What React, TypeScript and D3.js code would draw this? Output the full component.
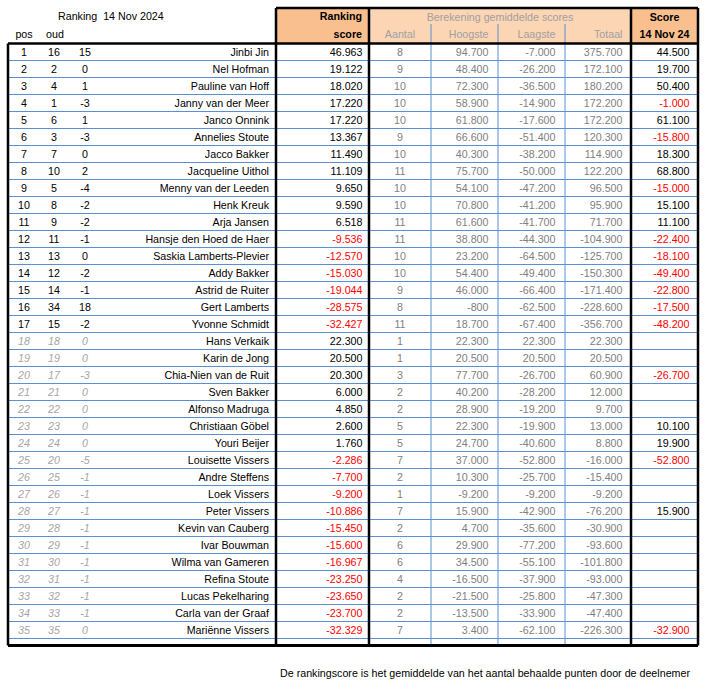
import React, { useEffect } from 'react';
import * as d3 from 'd3';

// ranking data, 14 Nov 2024
const pos = [1,2,3,4,5,6,7,8,9,10,11,12,13,14,15,16,17,18,19,20,21,22,23,24,25,26,27,28,29,30,31,32,33,34,35];
const oud = [16,2,4,1,6,3,7,10,5,8,9,11,13,12,14,34,15,18,19,17,21,22,23,24,20,25,26,27,28,29,30,31,32,33,35];
const diff = [15,0,1,-3,1,-3,0,2,-4,-2,-2,-1,0,-2,-1,18,-2,0,0,-3,0,0,0,0,-5,-1,-1,-1,-1,-1,-1,-1,-1,-1,0];
const names = [
  'Jinbi Jin','Nel Hofman','Pauline van Hoff','Janny van der Meer','Janco Onnink','Annelies Stoute',
  'Jacco Bakker','Jacqueline Uithol','Menny van der Leeden','Henk Kreuk','Arja Jansen',
  'Hansje den Hoed de Haer','Saskia Lamberts-Plevier','Addy Bakker','Astrid de Ruiter','Gert Lamberts',
  'Yvonne Schmidt','Hans Verkaik','Karin de Jong','Chia-Nien van de Ruit','Sven Bakker','Alfonso Madruga',
  'Christiaan Göbel','Youri Beijer','Louisette Vissers','Andre Steffens','Loek Vissers','Peter Vissers',
  'Kevin van Cauberg','Ivar Bouwman','Wilma van Gameren','Refina Stoute','Lucas Pekelharing',
  'Carla van der Graaf','Mariënne Vissers',
];
const rankingScore = [46963,19122,18020,17220,17220,13367,11490,11109,9650,9590,6518,-9536,-12570,-15030,-19044,-28575,-32427,22300,20500,20300,6000,4850,2600,1760,-2286,-7700,-9200,-10886,-15450,-15600,-16967,-23250,-23650,-23700,-32329];
const aantal = [8,9,10,10,10,9,10,11,10,10,11,11,10,10,9,8,11,1,1,3,2,2,5,5,7,2,1,7,2,6,6,4,2,2,7];
const hoogste = [94700,48400,72300,58900,61800,66600,40300,75700,54100,70800,61600,38800,23200,54400,46000,-800,18700,22300,20500,77700,40200,28900,22300,24700,37000,10300,-9200,15900,4700,29900,34500,-16500,-21500,-13500,3400];
const laagste = [-7000,-26200,-36500,-14900,-17600,-51400,-38200,-50000,-47200,-41200,-41700,-44300,-64500,-49400,-66400,-62500,-67400,22300,20500,-26700,-28200,-19200,-19900,-40600,-52800,-25700,-9200,-42900,-35600,-77200,-55100,-37900,-25800,-33900,-62100];
const totaal = [375700,172100,180200,172200,172200,120300,114900,122200,96500,95900,71700,-104900,-125700,-150300,-171400,-228600,-356700,22300,20500,60900,12000,9700,13000,8800,-16000,-15400,-9200,-76200,-30900,-93600,-101800,-93000,-47300,-47400,-226300];
const score: (number | null)[] = [44500,19700,50400,-1000,61100,-15800,18300,68800,-15000,15100,11100,-22400,-18100,-49400,-22800,-17500,-48200,null,null,-26700,null,null,10100,19900,-52800,null,null,15900,null,null,null,null,null,null,-32900];
const activeCount = 17; // eerste 17 rijen normaal, rest grijs cursief

const title = 'Ranking  14 Nov 2024';
const footer = 'De rankingscore is het gemiddelde van het aantal behaalde punten door de deelnemer';

const W = 707;
const H = 690;
const FONT = '"Liberation Sans", Arial, sans-serif';
const ORANGE = '#FABF8F';
const PEACH = '#FCD5B4';
const BLUE = '#5B8ED6';
const RED = '#FF0000';

const nl = d3.formatLocale({ decimal: ',', thousands: '.', grouping: [3], currency: ['€', ''], minus: '-' } as any);
const fmt = nl.format(',d');

const App = () => {
  useEffect(() => {
    document.body.style.margin = '0';
  }, []);

  const left = 8, right = 698, headTop = 8, headBottom = 43.5, tableBottom = 645.5;
  const xName = 276, xRank = 369, xAantal = 431, xHoog = 498, xLaag = 565, xTot = 631;

  const y = d3.scaleBand<number>()
    .domain(d3.range(names.length))
    .range([headBottom, headBottom + names.length * 17]);

  const rows = d3.range(names.length);
  const thick = 2.5;

  return (
    <svg width={W} height={H} style={{ display: 'block', fontFamily: FONT, fontSize: 10.7 }}>
      {/* header fills */}
      <rect x={xName} y={headTop} width={xRank - xName} height={headBottom - headTop} fill={ORANGE} />
      <rect x={xRank} y={headTop} width={xTot - xRank} height={headBottom - headTop} fill={PEACH} />
      <rect x={xTot} y={headTop} width={right - xTot} height={headBottom - headTop} fill={ORANGE} />

      <text x={58} y={20} style={{ whiteSpace: 'pre' }} fill="#000">{title}</text>
      <text x={24} y={38} textAnchor="middle">pos</text>
      <text x={55} y={38} textAnchor="middle">oud</text>

      <text x={362} y={20} textAnchor="end" fontWeight="bold">Ranking</text>
      <text x={362} y={38} textAnchor="end" fontWeight="bold">score</text>
      <text x={(xRank + xTot) / 2} y={21} textAnchor="middle" fill="#A0A0A0">Berekening gemiddelde scores</text>
      <text x={400} y={38} textAnchor="middle" fill="#A0A0A0">Aantal</text>
      <text x={488.5} y={38} textAnchor="end" fill="#A0A0A0">Hoogste</text>
      <text x={555.5} y={38} textAnchor="end" fill="#A0A0A0">Laagste</text>
      <text x={622.5} y={38} textAnchor="end" fill="#A0A0A0">Totaal</text>
      <text x={664.5} y={21} textAnchor="middle" fontWeight="bold">Score</text>
      <text x={664.5} y={38} textAnchor="middle" fontWeight="bold">14 Nov 24</text>

      {/* header blue separators */}
      {[xAantal, xHoog, xLaag].map(x => (
        <line key={'hs' + x} x1={x} x2={x} y1={24} y2={headBottom} stroke={BLUE} strokeWidth={1} />
      ))}

      {/* row lines */}
      {rows.map(i => (
        <line key={'rl' + i} x1={left} x2={right} y1={(y(i) as number) + y.bandwidth()} y2={(y(i) as number) + y.bandwidth()} stroke={BLUE} strokeWidth={1} />
      ))}
      {[xAantal, xHoog, xLaag].map(x => (
        <line key={'vs' + x} x1={x} x2={x} y1={headBottom} y2={tableBottom} stroke={BLUE} strokeWidth={1} />
      ))}

      {/* cells */}
      {rows.map(i => {
        const cy = (y(i) as number) + y.bandwidth() / 2 + 4;
        const inactive = i >= activeCount;
        const pStyle = inactive ? { fill: '#A6A6A6', fontStyle: 'italic' as const } : { fill: '#000' };
        const s = score[i];
        return (
          <g key={'r' + i}>
            <text x={24} y={cy} textAnchor="middle" style={pStyle}>{pos[i]}</text>
            <text x={54} y={cy} textAnchor="middle" style={pStyle}>{oud[i]}</text>
            <text x={85} y={cy} textAnchor="middle" style={pStyle}>{diff[i]}</text>
            <text x={269} y={cy} textAnchor="end">{names[i]}</text>
            <text x={362.5} y={cy} textAnchor="end" fill={rankingScore[i] < 0 ? RED : '#000'}>{fmt(rankingScore[i])}</text>
            <text x={400} y={cy} textAnchor="middle" fill="#808080">{aantal[i]}</text>
            <text x={488.5} y={cy} textAnchor="end" fill="#808080">{fmt(hoogste[i])}</text>
            <text x={555.5} y={cy} textAnchor="end" fill="#808080">{fmt(laagste[i])}</text>
            <text x={622.5} y={cy} textAnchor="end" fill="#808080">{fmt(totaal[i])}</text>
            {s !== null && (
              <text x={689.5} y={cy} textAnchor="end" fill={s < 0 ? RED : '#000'}>{fmt(s)}</text>
            )}
          </g>
        );
      })}

      {/* thick borders */}
      <line x1={xName} x2={right} y1={headTop} y2={headTop} stroke="#000" strokeWidth={thick} />
      <line x1={left} x2={right} y1={headBottom} y2={headBottom} stroke="#000" strokeWidth={thick} />
      <line x1={left} x2={right} y1={tableBottom} y2={tableBottom} stroke="#000" strokeWidth={thick + 0.5} />
      <line x1={left} x2={left} y1={headBottom} y2={tableBottom} stroke="#000" strokeWidth={thick} />
      {[xName, xRank, xTot, right].map(x => (
        <line key={'vb' + x} x1={x} x2={x} y1={headTop} y2={tableBottom} stroke="#000" strokeWidth={thick} />
      ))}

      <text x={690} y={677} textAnchor="end">{footer}</text>
    </svg>
  );
};

export default App;
